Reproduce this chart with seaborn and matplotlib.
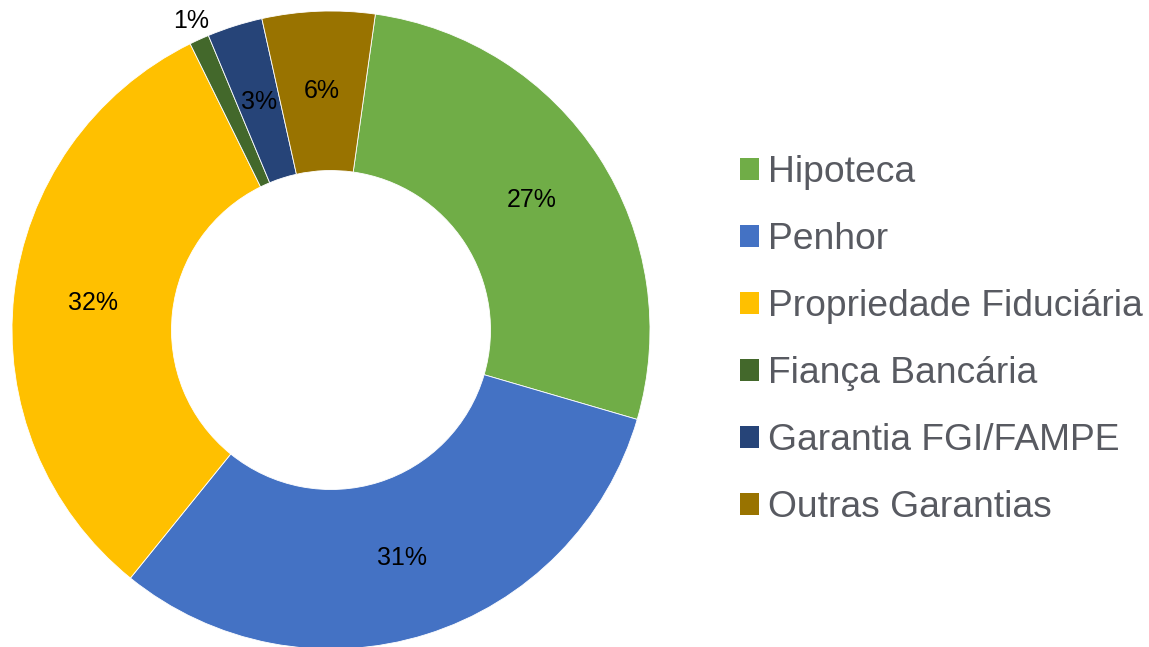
import matplotlib
matplotlib.use("Agg")
import matplotlib.pyplot as plt
import seaborn as sns
import numpy as np
from matplotlib.patches import Patch

categories = ["Hipoteca", "Penhor", "Propriedade Fiduciária", "Fiança Bancária",
              "Garantia FGI/FAMPE", "Outras Garantias"]
values = [27.3, 31.3, 31.9, 1.0, 2.8, 5.7]
labels = ["27%", "31%", "32%", "1%", "3%", "6%"]
colors_hex = ["#70AD47", "#4472C4", "#FFC000", "#43682B", "#264478", "#997300"]

sns.set_theme(style="white")
plt.rcParams['font.family'] = ['Liberation Sans', 'DejaVu Sans']
palette = sns.color_palette(colors_hex)

W, H = 1149, 647
fig = plt.figure(figsize=(W / 100, H / 100), dpi=100)
cx, cy, R = 331, 330, 319
ax = fig.add_axes([(cx - R) / W, (H - cy - R) / H, 2 * R / W, 2 * R / H])

wedges, _ = ax.pie(values, colors=palette, startangle=82, counterclock=False,
                   radius=1.0, wedgeprops=dict(width=0.5, edgecolor="white", linewidth=0.6))
ax.set_xlim(-1, 1)
ax.set_ylim(-1, 1)
ax.axis("off")

for w, lab in zip(wedges, labels):
    ang = np.deg2rad((w.theta1 + w.theta2) / 2)
    r = 0.75
    if lab == "1%":
        r = 1.065
    ax.text(r * np.cos(ang), r * np.sin(ang), lab, ha="center", va="center",
            fontsize=18, color="black", clip_on=False)

handles = [Patch(facecolor=c, edgecolor="none") for c in palette]
leg = fig.legend(handles, categories, loc="upper left",
                 bbox_to_anchor=(740 / W, 1 - 155 / H), frameon=False,
                 fontsize=26.8, labelcolor="#585A61",
                 handlelength=0.52, handleheight=0.52, handletextpad=0.22,
                 labelspacing=0.86, borderaxespad=0, borderpad=0)

fig.savefig("out.png", dpi=100, facecolor="white")
